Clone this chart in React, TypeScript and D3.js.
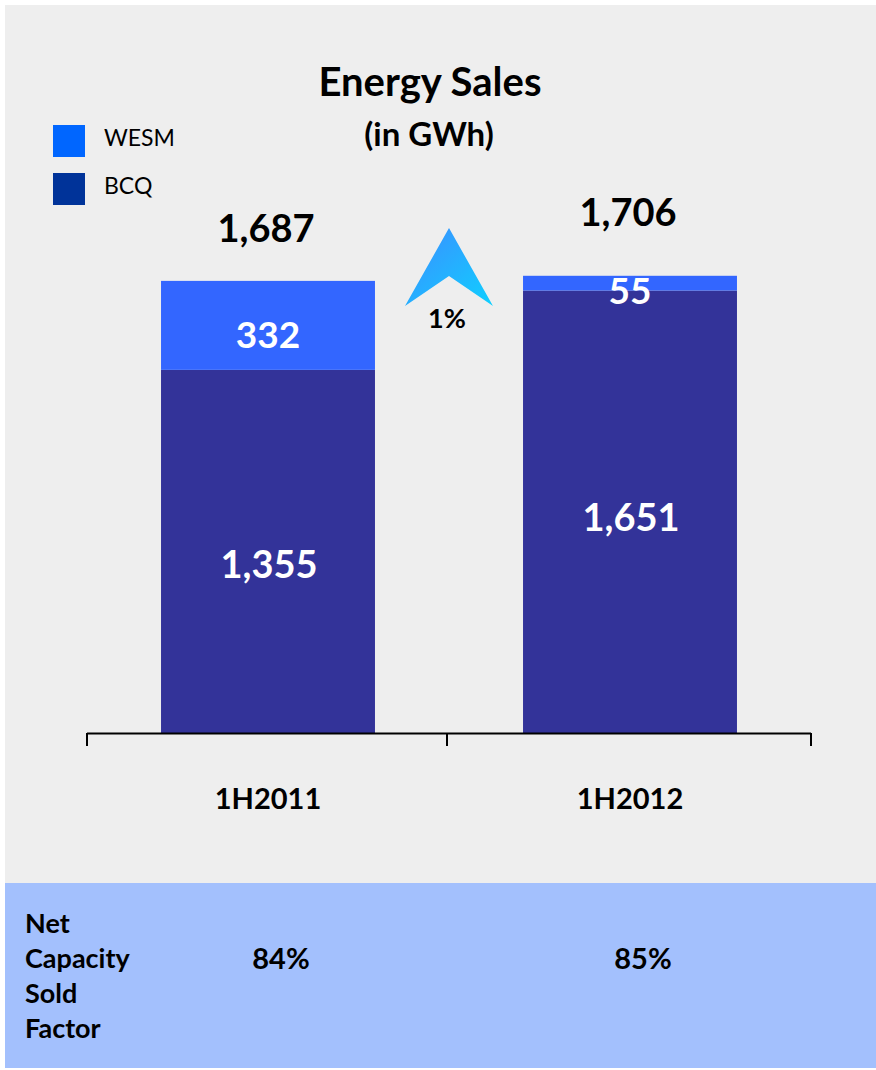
import React from "react";
import * as d3 from "d3";

const periods = ["1H2011", "1H2012"];
const bcq = [1355, 1651];
const wesm = [332, 55];
const totals = ["1,687", "1,706"];
const capacityFactor = ["84%", "85%"];
const growth = "1%";

const W = 876;
const H = 1070;
const FONT = "Lato, 'Open Sans', sans-serif";

export default function App() {
  const x = d3.scaleBand<string>().domain(periods).range([87, 811]).paddingInner(0.409).paddingOuter(0.2045);
  const y = d3.scaleLinear().domain([0, 1800]).range([733, 733 - 1800 * 0.268]);

  const stacked = d3.stack<any>().keys(["bcq", "wesm"])(
    periods.map((p, i) => ({ period: p, bcq: bcq[i], wesm: wesm[i] }))
  );
  const colors: Record<string, string> = { bcq: "#333399", wesm: "#3366ff" };

  // label baselines per bar
  const totalY = [242, 226];
  const bcqLabelY = [578, 531];
  const wesmLabelY = [348, 304];

  return (
    <svg width={W} height={H} style={{ position: "absolute", left: 0, top: 0 }} fontFamily={FONT}>
      <defs>
        <linearGradient id="arrowGrad" x1="0" y1="0" x2="1" y2="1">
          <stop offset="0%" stopColor="#3d8cff" />
          <stop offset="100%" stopColor="#0fd0ff" />
        </linearGradient>
      </defs>
      <rect x={5} y={5} width={871} height={878} fill="#eeeeee" />
      <rect x={5} y={883} width={871} height={185} fill="#a3c0fd" />

      <text x={430} y={96} textAnchor="middle" fontSize={40} fontWeight="bold">Energy Sales</text>
      <text x={429} y={146} textAnchor="middle" fontSize={33} fontWeight="bold">(in GWh)</text>

      <rect x={53} y={125} width={32} height={32} fill="#0066ff" />
      <text x={104} y={146} fontSize={23}>WESM</text>
      <rect x={53} y={173} width={32} height={32} fill="#003399" />
      <text x={104} y={194} fontSize={23}>BCQ</text>

      {stacked.map((layer) =>
        layer.map((d, i) => (
          <rect
            key={layer.key + i}
            x={x(periods[i])}
            y={y(d[1])}
            width={x.bandwidth()}
            height={y(d[0]) - y(d[1])}
            fill={colors[layer.key]}
          />
        ))
      )}

      {periods.map((p, i) => {
        const cx = (x(p) as number) + x.bandwidth() / 2;
        return (
          <g key={p}>
            <text x={cx - 2} y={totalY[i]} textAnchor="middle" fontSize={38} fontWeight="bold">{totals[i]}</text>
            <text x={cx + 1} y={bcqLabelY[i]} textAnchor="middle" fontSize={38} fontWeight="bold" fill="#fff">{d3.format(",")(bcq[i])}</text>
            <text x={cx} y={wesmLabelY[i]} textAnchor="middle" fontSize={37} fontWeight="bold" fill="#fff">{wesm[i]}</text>
            <text x={cx} y={809} textAnchor="middle" fontSize={29} fontWeight="bold">{p}</text>
            <text x={cx + 13} y={969} textAnchor="middle" fontSize={29} fontWeight="bold">{capacityFactor[i]}</text>
          </g>
        );
      })}

      <line x1={87} x2={811} y1={733.5} y2={733.5} stroke="#000" strokeWidth={2} />
      {[87, 447, 811].map((t) => (
        <line key={t} x1={t} x2={t} y1={733} y2={746} stroke="#000" strokeWidth={2} />
      ))}

      <path d="M449,228 L493,306 L449,276 L405,306 Z" fill="url(#arrowGrad)" />
      <text x={447} y={328} textAnchor="middle" fontSize={27} fontWeight="bold">{growth}</text>

      {["Net", "Capacity", "Sold", "Factor"].map((w, i) => (
        <text key={w} x={25} y={933 + i * 35} fontSize={27} fontWeight="bold">{w}</text>
      ))}
    </svg>
  );
}
